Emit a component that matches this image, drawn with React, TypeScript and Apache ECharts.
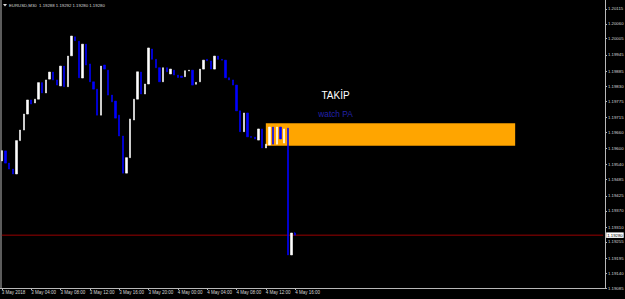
import React, { useEffect, useRef } from "react";
import * as echarts from "echarts";

const chartTitle = "EURUSD,M30  1.19288 1.19292 1.19280 1.19280";
const xTickLabels = [
  "3 May 2018", "3 May 04:00", "3 May 08:00", "3 May 12:00", "3 May 16:00", "3 May 20:00",
  "4 May 00:00", "4 May 04:00", "4 May 08:00", "4 May 12:00", "4 May 16:00",
];
const yTickValues = [
  1.19085, 1.1914, 1.19195, 1.19255, 1.1931, 1.1937, 1.19425, 1.19485, 1.1954, 1.196,
  1.1966, 1.19715, 1.19775, 1.1983, 1.19885, 1.19945, 1.20005, 1.2006, 1.20115,
];
const opens = [
  1.19554, 1.19591, 1.19546, 1.19524, 1.19506, 1.19629, 1.19668, 1.19727, 1.19779, 1.19768,
  1.19782, 1.19843, 1.19805, 1.19856, 1.19882, 1.19853, 1.19831, 1.19904, 1.19828, 1.19942,
  1.20012, 1.19996, 1.1986, 1.19985, 1.19912, 1.19846, 1.19819, 1.19723, 1.19908, 1.19889,
  1.19797, 1.19775, 1.19723, 1.19646, 1.19509, 1.19566, 1.19705, 1.19782, 1.19882, 1.19801,
  1.19838, 1.19967, 1.19929, 1.19898, 1.19846, 1.19898, 1.19875, 1.19889, 1.19871, 1.19867,
  1.19865, 1.19886, 1.19889, 1.19837, 1.19846, 1.19893, 1.19929, 1.19923, 1.19893, 1.19941,
  1.19929, 1.19926, 1.19861, 1.19853, 1.19834, 1.19739, 1.19662, 1.19731, 1.19644, 1.19642,
  1.19631, 1.19672, 1.19602, 1.19613, 1.19679, 1.19616, 1.19679, 1.1962, 1.19675, 1.19207,
  1.19288,
];
const closes = [
  1.19592, 1.19546, 1.19524, 1.19506, 1.19629, 1.19668, 1.19727, 1.19779, 1.19764, 1.19782,
  1.19843, 1.19805, 1.19853, 1.19882, 1.19853, 1.19834, 1.19904, 1.19828, 1.19941, 1.20015,
  1.19998, 1.19861, 1.19985, 1.19908, 1.19846, 1.19819, 1.19723, 1.19904, 1.19893, 1.19797,
  1.19772, 1.19712, 1.19646, 1.19509, 1.19566, 1.19709, 1.19782, 1.19883, 1.19801, 1.19838,
  1.19971, 1.19929, 1.19898, 1.19846, 1.19898, 1.19883, 1.19893, 1.19871, 1.19862, 1.19862,
  1.19887, 1.19889, 1.19834, 1.19844, 1.19893, 1.19926, 1.19924, 1.19893, 1.19941, 1.19929,
  1.19926, 1.19861, 1.19853, 1.19834, 1.19739, 1.19662, 1.19731, 1.19643, 1.19641, 1.19635,
  1.19672, 1.19602, 1.19616, 1.19679, 1.19616, 1.19679, 1.19635, 1.19672, 1.19207, 1.19288,
  1.1928,
];
const lows = [
  1.19554, 1.19546, 1.19524, 1.19506, 1.19506, 1.19629, 1.19668, 1.19727, 1.19764, 1.19768,
  1.19782, 1.19805, 1.19805, 1.19856, 1.19853, 1.19834, 1.19831, 1.19828, 1.19828, 1.19942,
  1.19998, 1.19861, 1.1986, 1.19908, 1.19846, 1.19819, 1.19723, 1.19723, 1.19893, 1.19797,
  1.19772, 1.19712, 1.19646, 1.19509, 1.19509, 1.19566, 1.19705, 1.19782, 1.19801, 1.19801,
  1.19838, 1.19929, 1.19898, 1.19846, 1.19846, 1.19883, 1.19875, 1.19871, 1.19862, 1.19862,
  1.19865, 1.19886, 1.19834, 1.19837, 1.19846, 1.19893, 1.19924, 1.19893, 1.19893, 1.19929,
  1.19926, 1.19861, 1.19853, 1.19834, 1.19739, 1.19662, 1.19662, 1.19643, 1.19641, 1.19635,
  1.19631, 1.19602, 1.19602, 1.19613, 1.19616, 1.19616, 1.19635, 1.1962, 1.19207, 1.19207,
  1.1928,
];
const highs = [
  1.19592, 1.19591, 1.19546, 1.19524, 1.19629, 1.19668, 1.19727, 1.19779, 1.19779, 1.19782,
  1.19843, 1.19843, 1.19853, 1.19882, 1.19882, 1.19853, 1.19904, 1.19904, 1.19941, 1.20015,
  1.20012, 1.19996, 1.19985, 1.19985, 1.19912, 1.19846, 1.19819, 1.19904, 1.19908, 1.19889,
  1.19797, 1.19775, 1.19723, 1.19646, 1.19566, 1.19709, 1.19782, 1.19883, 1.19882, 1.19838,
  1.19971, 1.19967, 1.19929, 1.19898, 1.19898, 1.19898, 1.19893, 1.19889, 1.19871, 1.19867,
  1.19887, 1.19889, 1.19889, 1.19844, 1.19893, 1.19926, 1.19929, 1.19923, 1.19941, 1.19941,
  1.19929, 1.19926, 1.19861, 1.19853, 1.19834, 1.19739, 1.19731, 1.19731, 1.19644, 1.19642,
  1.19672, 1.19672, 1.19616, 1.19679, 1.19679, 1.19679, 1.19679, 1.19672, 1.19675, 1.19288,
  1.19292,
];
const totalSlots = 165;
const bidPrice = 1.1928;
const zoneTop = 1.19693;
const zoneBottom = 1.1961;
const zoneStartBar = 72;
const zoneEndBar = 140;
const noteTitle = "TAKİP";
const noteTitlePos = { bar: 91, price: 1.19794 };
const noteSub = "watch PA";
const noteSubPos = { bar: 91, price: 1.19727 };

export default function App() {
  const ref = useRef<HTMLDivElement>(null);
  useEffect(() => {
    document.body.style.margin = "0";
    document.body.style.background = "#000";
    if (!ref.current) return;
    const chart = echarts.init(ref.current, null, { renderer: "svg" });
    const categories = Array.from({ length: totalSlots }, (_, i) => String(i));
    const candles = opens.map((o, i) => [o, closes[i], lows[i], highs[i]]);
    const font = "Liberation Sans, Arial, sans-serif";
    chart.setOption({
      animation: false,
      backgroundColor: "#000000",
      grid: { left: 0, right: 20, top: 0, bottom: 11, containLabel: false, outerBoundsMode: "none" },
      xAxis: {
        type: "category",
        data: categories,
        boundaryGap: true,
        axisLine: { show: true, lineStyle: { color: "#b8b8b8", width: 1 } },
        axisTick: {
          show: true,
          alignWithLabel: true,
          length: 2,
          interval: (i: number) => i % 8 === 0 && i <= 80,
          lineStyle: { color: "#b8b8b8" },
        },
        axisLabel: {
          show: true,
          interval: (i: number) => i % 8 === 0 && i <= 80,
          formatter: (_v: string, i: number) => xTickLabels[i / 8] ?? "",
          align: "left",
          margin: 2,
          color: "#d8d8d8",
          fontSize: 4.5,
          fontFamily: font,
        },
        splitLine: { show: false },
      },
      yAxis: {
        type: "value",
        position: "right",
        min: 1.19085,
        max: 1.20148,
        axisLine: { show: true, lineStyle: { color: "#b8b8b8", width: 1 } },
        axisTick: { show: true, length: 2, customValues: yTickValues, lineStyle: { color: "#b8b8b8" } },
        axisLabel: {
          show: true,
          customValues: yTickValues,
          formatter: (v: number) => v.toFixed(5),
          margin: 3,
          color: "#d8d8d8",
          fontSize: 4.3,
          fontFamily: font,
        },
        splitLine: { show: false },
      },
      series: [
        {
          type: "line",
          data: [
            [categories[0], bidPrice],
            [categories[totalSlots - 1], bidPrice],
          ],
          symbol: "none",
          z: 2,
          silent: true,
          lineStyle: { color: "#990000", width: 1, type: "solid" },
          endLabel: {
            show: true,
            distance: 3,
            formatter: () => bidPrice.toFixed(5),
            backgroundColor: "#ffffff",
            color: "#000000",
            padding: [1, 1, 0.5, 1],
            fontSize: 4.3,
            fontFamily: font,
          },
        },
        {
          type: "candlestick",
          data: candles,
          barWidth: 2,
          z: 3,
          itemStyle: {
            color: "#ffffff",
            color0: "#0000ff",
            borderColor: "#ffffff",
            borderColor0: "#0000ff",
            borderWidth: 0.6,
          },
          markArea: {
            silent: true,
            itemStyle: { color: "#FFA500", opacity: 1 },
            data: [[
              { xAxis: categories[zoneStartBar], yAxis: zoneTop },
              { xAxis: categories[zoneEndBar], yAxis: zoneBottom },
            ]],
          },
          markPoint: {
            silent: true,
            symbol: "circle",
            symbolSize: 0,
            data: [
              {
                coord: [categories[noteTitlePos.bar], noteTitlePos.price],
                label: { show: true, formatter: noteTitle, color: "#ffffff", fontSize: 10, fontFamily: font, position: "inside" },
              },
              {
                coord: [categories[noteSubPos.bar], noteSubPos.price],
                label: { show: true, formatter: noteSub, color: "#2222a8", fontSize: 8.3, fontFamily: font, position: "inside" },
              },
            ],
          },
        },
      ],
      graphic: [
        { type: "line", shape: { x1: 1, y1: 0, x2: 1, y2: 288 }, style: { stroke: "#b8b8b8", lineWidth: 1 } },
        { type: "polygon", shape: { points: [[3, 4], [7, 4], [5, 6.5]] }, style: { fill: "#dddddd" } },
        { type: "text", x: 9, y: 5, style: { text: chartTitle, fill: "#d8d8d8", fontSize: 4.3, fontFamily: font, verticalAlign: "middle" } },
      ],
    });
    return () => chart.dispose();
  }, []);
  return <div ref={ref} style={{ width: 625, height: 299, background: "#000" }} />;
}
